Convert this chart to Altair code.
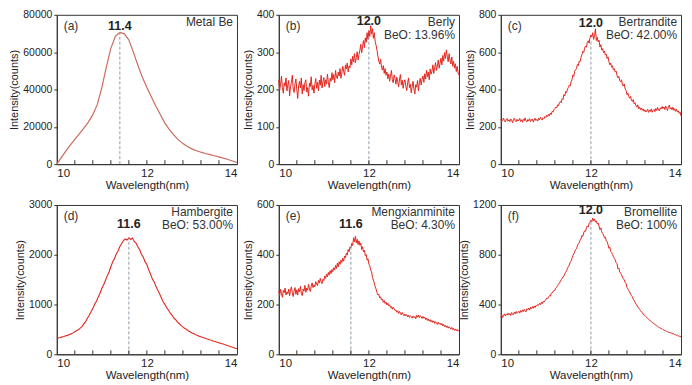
import altair as alt
import pandas as pd

# ---------------- data ----------------
wl_smooth = [round(10 + 0.1 * i, 1) for i in range(41)]
wl_mid = [round(10 + 0.04 * i, 2) for i in range(101)]
wl_fine = [round(10 + 0.02 * i, 2) for i in range(201)]

metal_be = [0, 3500, 7000, 10200, 13200, 16200, 19300, 22500, 26500, 32000,
            41000, 52000, 62000, 68500, 70500, 69800, 66500, 60000, 53000, 46500,
            41000, 36000, 31000, 26500, 22000, 18500, 15500, 13000, 11000, 9400,
            8200, 7200, 6400, 5700, 5100, 4500, 3900, 3200, 2500, 1700, 900]

berly = [225, 198, 214, 236, 205, 190, 218, 209, 231, 196,
         212, 224, 183, 207, 219, 238, 201, 192, 215, 228,
         199, 176, 210, 222, 204, 231, 188, 213, 197, 219,
         226, 193, 205, 182, 217, 208, 234, 199, 211, 190,
         214, 229, 203, 219, 196, 225, 211, 238, 204, 221,
         232, 208, 226, 214, 241, 219, 205, 230, 222, 245,
         226, 240, 218, 251, 233, 229, 247, 236, 256, 230,
         244, 262, 249, 238, 266, 255, 271, 247, 263, 258,
         282, 266, 289, 274, 296, 271, 285, 301, 279, 294,
         305, 321, 298, 316, 331, 312, 338, 326, 352, 334,
         358, 342, 371, 349, 363, 337, 352, 328, 318, 305,
         290, 276, 268, 281, 259, 252, 264, 243, 256, 238,
         247, 229, 241, 222, 236, 251, 226, 218, 239, 230,
         214, 233, 221, 207, 228, 240, 212, 225, 203, 219,
         226, 209, 197, 218, 231, 205, 214, 191, 207, 222,
         201, 188, 213, 206, 224, 196, 218, 230, 212, 227,
         236, 219, 242, 228, 251, 234, 247, 226, 255, 241,
         249, 266, 243, 258, 272, 251, 263, 279, 257, 270,
         284, 266, 291, 276, 299, 283, 306, 288, 274, 296,
         279, 268, 287, 262, 275, 257, 269, 248, 262, 244,
         238]

bertrandite = [241, 229, 236, 247, 232, 226, 239, 244, 230, 237,
               228, 242, 235, 221, 238, 246, 233, 227, 240, 231,
               236, 245, 229, 238, 224, 240, 233, 248, 231, 226,
               239, 232, 244, 228, 236, 242, 225, 237, 246, 234,
               240, 231, 246, 238, 252, 241, 236, 249, 244, 255,
               250, 262, 255, 268, 259, 274, 266, 283, 279, 291,
               298, 306, 301, 318, 312, 329, 335, 328, 351, 346,
               372, 365, 389, 384, 402, 411, 423, 418, 441, 452,
               478, 470, 498, 505, 512, 534, 528, 551, 549, 572,
               586, 604, 598, 621, 633, 626, 652, 661, 648, 676,
               692, 681, 704, 668, 688, 725, 662, 680, 655, 664,
               628, 640, 611, 619, 598, 606, 584, 590, 566, 575,
               548, 532, 541, 519, 527, 504, 511, 493, 498, 475,
               462, 470, 448, 441, 452, 424, 418, 429, 402, 396,
               372, 381, 362, 353, 364, 341, 335, 346, 323, 329,
               312, 305, 318, 297, 306, 292, 301, 288, 296, 283,
               291, 279, 286, 294, 277, 289, 282, 296, 278, 288,
               293, 281, 298, 287, 304, 291, 285, 302, 296, 309,
               297, 306, 292, 311, 299, 288, 305, 316, 296, 302,
               292, 305, 288, 297, 283, 294, 279, 286, 272, 278,
               258]

hambergite = [315, 328, 336, 350, 356, 372, 380, 398, 410, 430,
              452, 478, 492, 524, 556, 612, 656, 724, 786, 853,
              918, 1004, 1066, 1153, 1226, 1322, 1396, 1484, 1576, 1654,
              1758, 1853, 1918, 2014, 2076, 2164, 2226, 2286, 2316, 2296,
              2342, 2306, 2334, 2268, 2236, 2154, 2104, 2006, 1954, 1856,
              1804, 1696, 1614, 1516, 1454, 1366, 1294, 1216, 1134, 1056,
              1004, 936, 884, 826, 784, 726, 694, 646, 614, 576,
              552, 518, 502, 468, 452, 428, 418, 392, 382, 362,
              352, 338, 327, 312, 302, 288, 282, 262, 257, 243,
              234, 218, 212, 196, 187, 170, 162, 146, 137, 120, 112]

mengxianminite = [252, 236, 261, 244, 229, 257, 248, 266, 238, 251,
                  243, 262, 235, 258, 271, 246, 232, 255, 268, 241,
                  259, 238, 264, 251, 273, 245, 236, 262, 254, 277,
                  249, 266, 258, 281, 263, 252, 274, 287, 268, 279,
                  271, 292, 282, 276, 297, 286, 305, 291, 284, 302,
                  296, 314, 305, 322, 311, 329, 318, 336, 324, 341,
                  332, 348, 339, 357, 345, 366, 351, 372, 361, 378,
                  369, 386, 374, 395, 388, 406, 399, 421, 412, 432,
                  428, 446, 437, 468, 452, 474, 447, 462, 441, 456,
                  438, 447, 421, 432, 411, 418, 396, 401, 378, 384,
                  362, 355, 338, 331, 309, 298, 286, 271, 262, 248,
                  238, 242, 226, 231, 218, 222, 209, 216, 204, 210,
                  198, 205, 194, 199, 188, 192, 181, 190, 183, 176,
                  178, 169, 175, 164, 172, 166, 158, 168, 161, 155,
                  162, 154, 159, 150, 157, 148, 155, 151, 145, 153,
                  147, 152, 143, 156, 149, 158, 147, 155, 150, 144,
                  152, 145, 149, 139, 146, 136, 142, 133, 139, 130,
                  136, 128, 134, 124, 131, 126, 120, 129, 121, 125,
                  118, 124, 114, 120, 110, 116, 108, 114, 105, 111,
                  106, 101, 108, 99, 104, 96, 102, 95, 100, 93,
                  97]

bromellite = [302, 318, 296, 312, 325, 308, 321, 314, 330, 316,
              327, 312, 335, 321, 318, 338, 326, 344, 329, 337,
              346, 331, 352, 338, 357, 343, 361, 349, 341, 366,
              358, 372, 355, 378, 364, 383, 370, 388, 375, 392,
              389, 401, 394, 409, 398, 418, 406, 426, 419, 432,
              438, 451, 446, 462, 471, 468, 489, 492, 506, 511,
              514, 532, 538, 551, 563, 572, 584, 601, 608, 622,
              626, 648, 659, 671, 692, 705, 718, 741, 748, 772,
              792, 806, 821, 842, 848, 871, 889, 895, 918, 926,
              955, 948, 976, 992, 988, 1016, 1031, 1022, 1052, 1061,
              1078, 1066, 1094, 1071, 1088, 1062, 1072, 1048, 1055, 1031,
              1002, 1016, 984, 971, 958, 936, 942, 912, 904, 881,
              852, 861, 826, 818, 802, 784, 771, 759, 736, 728,
              686, 694, 661, 652, 638, 621, 607, 598, 578, 569,
              538, 526, 512, 501, 484, 471, 462, 443, 432, 418,
              402, 396, 381, 372, 361, 352, 341, 336, 322, 318,
              311, 302, 296, 287, 281, 276, 268, 263, 256, 251,
              246, 241, 234, 229, 226, 219, 215, 211, 204, 207,
              199, 196, 191, 188, 184, 181, 177, 179, 171, 173,
              168, 164, 166, 159, 157, 152, 155, 148, 146, 143,
              140]

panel_labels = ["(a)", "(b)", "(c)", "(d)", "(e)", "(f)"]
names = ["Metal Be", "Berly", "Bertrandite", "Hambergite", "Mengxianminite", "Bromellite"]
beo = ["", "BeO: 13.96%", "BeO: 42.00%", "BeO: 53.00%", "BeO: 4.30%", "BeO: 100%"]
peaks = [11.4, 12.0, 12.0, 11.6, 11.6, 12.0]
peak_tops = [70500, 345, 660, 2320, 440, 1080]
y_max = [80000, 400, 800, 3000, 600, 1200]
y_ticks = [[0, 20000, 40000, 60000, 80000], [0, 100, 200, 300, 400],
           [0, 200, 400, 600, 800], [0, 1000, 2000, 3000],
           [0, 200, 400, 600], [0, 400, 800, 1200]]
x_labels = [10, 12, 14]
x_minor = [10.4, 10.8, 11.2, 11.6, 12.0, 12.4, 12.8, 13.2, 13.6]

series_x = [wl_smooth, wl_fine, wl_fine, wl_mid, wl_fine, wl_fine]
series_y = [metal_be, berly, bertrandite, hambergite, mengxianminite, bromellite]

# ---------------- style ----------------
W, H = 181, 150
RED = "#e2251d"
FONT = "Liberation Sans"
peak_dy = [11, 6, 8, 19, 19, 5]
line_colors = ["#cc6b60", RED, RED, RED, RED, RED]
line_widths = [1.2, 1.0, 1.0, 1.1, 1.0, 1.0]


def panel(i):
    x_enc = alt.X("wl:Q", scale=alt.Scale(domain=[10, 14], nice=False, zero=False),
                  axis=alt.Axis(values=x_labels, title="Wavelength(nm)", ticks=False,
                                format="d", labelPadding=3, titlePadding=1))
    y_enc = alt.Y("counts:Q", scale=alt.Scale(domain=[0, y_max[i]], nice=False),
                  axis=alt.Axis(values=y_ticks[i], title="Intensity(counts)", format="d",
                                tickSize=3, labelPadding=2, titlePadding=3))
    df = pd.DataFrame({"wl": series_x[i], "counts": series_y[i]})
    line = alt.Chart(df).mark_line(color=line_colors[i], strokeWidth=line_widths[i]).encode(
        x=x_enc, y=y_enc)
    pk = pd.DataFrame({"wl": [peaks[i]], "counts": [0], "top": [peak_tops[i]],
                       "lab": [f"{peaks[i]:.1f}"], "panel": [panel_labels[i]],
                       "name": [names[i]], "beo": [beo[i]]})
    dash = alt.Chart(pk).mark_rule(color="#8e9ba6", strokeDash=[3, 2], strokeWidth=1).encode(
        x=x_enc, y=y_enc, y2="top:Q")
    minor = alt.Chart(pd.DataFrame({"wl": x_minor})).mark_rule(color="#333", strokeWidth=1).encode(
        x=x_enc, y=alt.value(H), y2=alt.value(H - 4))
    ptxt = alt.Chart(pk).mark_text(fontWeight="bold", fontSize=12.5, color="#222").encode(
        x=x_enc, y=alt.value(peak_dy[i]), text="lab:N")
    plab = alt.Chart(pk).mark_text(align="left", fontSize=12, color="#333").encode(
        x=alt.value(7), y=alt.value(11), text="panel:N")
    nm = alt.Chart(pk).mark_text(align="right", fontSize=12, color="#333").encode(
        x=alt.value(W - 4), y=alt.value(7.5), text="name:N")
    bo = alt.Chart(pk).mark_text(align="right", fontSize=12, color="#333").encode(
        x=alt.value(W - 4), y=alt.value(20.5), text="beo:N")
    return alt.layer(line, dash, minor, ptxt, plab, nm, bo).properties(width=W, height=H)


chart = alt.concat(*[panel(i) for i in range(6)], columns=3,
                   spacing=alt.RowColnumber(row=41, column=42), bounds="flush")
chart = chart.properties(padding=0).configure_axis(
    grid=False, domainColor="#333", tickColor="#333", labelColor="#222", titleColor="#222",
    labelFont=FONT, titleFont=FONT, titleFontWeight="normal", labelFontSize=10.5,
    titleFontSize=11,
).configure_axisX(labelFontSize=11.5, titleFontSize=11.5).configure_view(
    stroke="#333", strokeWidth=1
).configure_text(font=FONT)

chart.save("out.html", embed_options={"renderer": "svg", "actions": False})
